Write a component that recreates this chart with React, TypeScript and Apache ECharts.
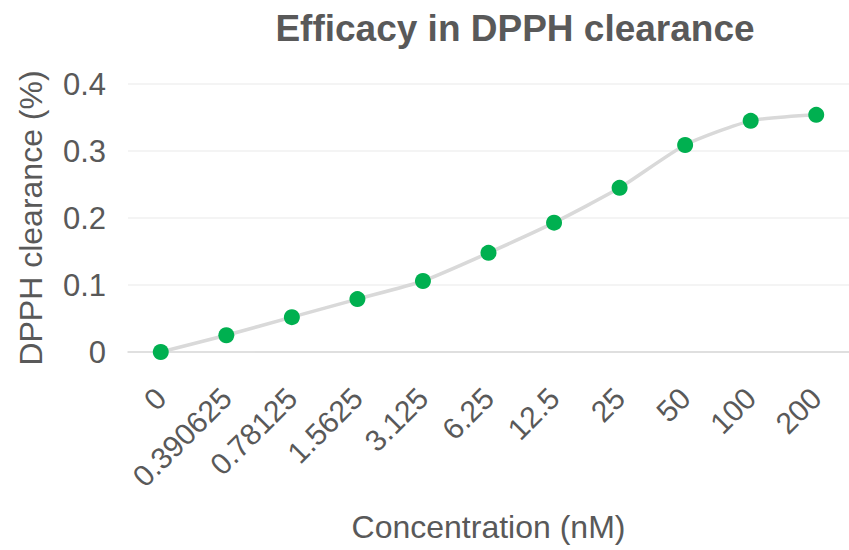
import React, { useEffect, useRef } from "react";
import * as echarts from "echarts";

const categories = ["0", "0.390625", "0.78125", "1.5625", "3.125", "6.25", "12.5", "25", "50", "100", "200"];
const clearance = [0, 0.025, 0.052, 0.079, 0.106, 0.148, 0.193, 0.245, 0.309, 0.345, 0.354];
const yTicks = [0, 0.1, 0.2, 0.3, 0.4];

export default function App() {
  const ref = useRef<HTMLDivElement>(null);
  useEffect(() => {
    if (!ref.current) return;
    const chart = echarts.init(ref.current, null, { renderer: "svg" });
    const font = "Liberation Sans, Arial, sans-serif";
    chart.setOption({
      animation: false,
      backgroundColor: "#ffffff",
      title: {
        text: "Efficacy in DPPH clearance",
        left: 510,
        top: 5,
        textAlign: "center",
        textStyle: { fontFamily: font, fontSize: 37, fontWeight: "bold", color: "#595959" },
      },
      grid: { left: 128, top: 84, width: 728, height: 268, containLabel: false },
      xAxis: {
        type: "category",
        data: categories,
        boundaryGap: true,
        name: "Concentration (nM)",
        nameLocation: "middle",
        nameGap: 159,
        nameTextStyle: { fontFamily: font, fontSize: 32, color: "#595959" },
        axisLine: { lineStyle: { color: "#d9d9d9", width: 1.5 } },
        axisTick: { show: false },
        axisLabel: { rotate: 45, fontFamily: font, fontSize: 30, color: "#595959", margin: 41, interval: 0 },
      },
      yAxis: {
        type: "value",
        min: 0,
        max: 0.4,
        interval: 0.1,
        name: "DPPH clearance (%)",
        nameLocation: "middle",
        nameGap: 81,
        nameTextStyle: { fontFamily: font, fontSize: 32, color: "#595959" },
        axisLine: { show: false },
        axisTick: { show: false },
        splitLine: { lineStyle: { color: "#f0f0f0", width: 1.5 } },
        axisLabel: {
          fontFamily: font,
          fontSize: 31,
          color: "#595959",
          margin: 22,
          formatter: (v: number) => {
            const t = yTicks.find((x) => Math.abs(x - v) < 1e-9);
            return String(t !== undefined ? t : v);
          },
        },
      },
      series: [
        {
          type: "line",
          data: clearance,
          smooth: 0.2,
          symbol: "circle",
          symbolSize: 16,
          lineStyle: { color: "#d9d9d9", width: 3.5 },
          itemStyle: { color: "#00b050" },
        },
      ],
    });
    return () => chart.dispose();
  }, []);
  return (
    <div
      ref={ref}
      style={{ position: "fixed", left: 0, top: 0, width: 849, height: 550, background: "#fff" }}
    />
  );
}
